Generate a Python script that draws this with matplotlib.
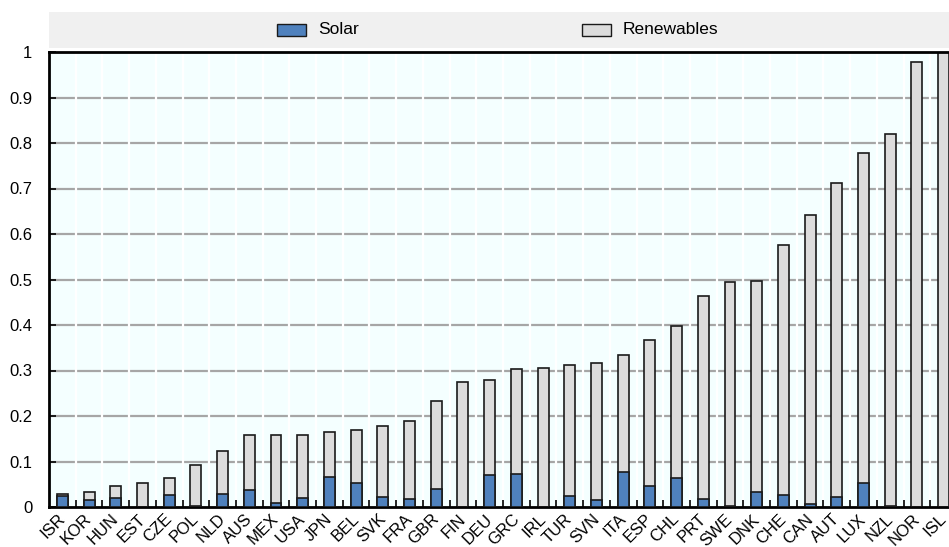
import numpy as np
import matplotlib
matplotlib.use("Agg")
import matplotlib.pyplot as plt
from matplotlib.patches import Rectangle
from matplotlib.transforms import ScaledTranslation

plt.rcParams['font.family'] = ['Liberation Sans', 'DejaVu Sans']

countries = ['ISR', 'KOR', 'HUN', 'EST', 'CZE', 'POL', 'NLD', 'AUS', 'MEX', 'USA',
             'JPN', 'BEL', 'SVK', 'FRA', 'GBR', 'FIN', 'DEU', 'GRC', 'IRL', 'TUR',
             'SVN', 'ITA', 'ESP', 'CHL', 'PRT', 'SWE', 'DNK', 'CHE', 'CAN', 'AUT',
             'LUX', 'NZL', 'NOR', 'ISL']
renewables = [0.028, 0.034, 0.046, 0.053, 0.064, 0.092, 0.122, 0.158, 0.159, 0.159,
              0.164, 0.170, 0.177, 0.189, 0.232, 0.275, 0.280, 0.303, 0.305, 0.311,
              0.316, 0.335, 0.366, 0.397, 0.463, 0.494, 0.497, 0.575, 0.642, 0.711,
              0.777, 0.820, 0.978, 1.0]
solar = [0.024, 0.015, 0.019, 0.0, 0.026, 0.002, 0.028, 0.037, 0.009, 0.020,
         0.066, 0.053, 0.023, 0.018, 0.039, 0.001, 0.070, 0.072, 0.0, 0.024,
         0.015, 0.078, 0.046, 0.063, 0.017, 0.002, 0.032, 0.027, 0.006, 0.021,
         0.052, 0.002, 0.0, 0.0]
yticks = [0, 0.1, 0.2, 0.3, 0.4, 0.5, 0.6, 0.7, 0.8, 0.9, 1]
ytick_labels = ['0', '0.1', '0.2', '0.3', '0.4', '0.5', '0.6', '0.7', '0.8', '0.9', '1']

W, H = 949, 547
fig = plt.figure(figsize=(W / 100, H / 100), dpi=100)
ax = fig.add_axes([49 / W, 40 / H, 908 / W, 455 / H])
ax.set_facecolor('#F4FFFF')

x = np.arange(len(countries))
ax.set_xlim(-0.5, len(countries) - 0.5)
ax.set_ylim(0, 1)

# grid: grey horizontal lines cut by white vertical separators between countries
for yv in yticks[1:-1]:
    ax.axhline(yv, color='#A6A6A6', lw=1.6, zorder=1)
for xv in np.arange(0.5, len(countries) - 0.5, 1):
    ax.axvline(xv, color='white', lw=1.6, zorder=1.5)

ax.bar(x, renewables, width=0.41, color='#DCDCDC', edgecolor='#1a1a1a', lw=1.2, zorder=2)
ax.bar(x, solar, width=0.41, color='#4F81BD', edgecolor='#1a1a1a', lw=1.2, zorder=3)

ax.set_yticks(yticks)
ax.set_yticklabels(ytick_labels, fontsize=12)
ax.set_xticks(x)
ax.set_xticklabels(countries, fontsize=12, rotation=45, ha='right', va='top',
                   rotation_mode='anchor')
ax.tick_params(axis='x', length=0, pad=2)
ax.tick_params(axis='y', direction='in', length=5, width=1.2, color='black', pad=12)

# nudge the rotated country codes so they hang just under their bars
shift = ScaledTranslation(-0.05, -0.015, fig.dpi_scale_trans)
for lab in ax.get_xticklabels():
    lab.set_transform(lab.get_transform() + shift)

# minor ticks at the category boundaries on the bottom axis
ax.set_xticks(np.arange(0.5, len(countries) - 0.5, 1), minor=True)
ax.tick_params(axis='x', which='minor', direction='in', length=5, width=1.2, color='black')

for side in ['top', 'bottom', 'left']:
    ax.spines[side].set_linewidth(2)
    ax.spines[side].set_color('black')
ax.spines['right'].set_visible(False)

# legend strip above the plot
fig.patches.append(Rectangle((49 / W, (H - 48) / H), 1 - 49 / W, 36 / H,
                             transform=fig.transFigure, facecolor='#F0F0F0',
                             edgecolor='none', zorder=0))
legend_items = [('Solar', '#4F81BD', 277), ('Renewables', '#DCDCDC', 582)]
for name, col, px in legend_items:
    fig.patches.append(Rectangle((px / W, (H - 36) / H), 29 / W, 12 / H,
                                 transform=fig.transFigure, facecolor=col,
                                 edgecolor='#1a1a1a', lw=1.0))
    fig.text((px + 41) / W, (H - 30) / H, name, fontsize=12.5, va='center', ha='left')

fig.savefig('out.png', dpi=100)
